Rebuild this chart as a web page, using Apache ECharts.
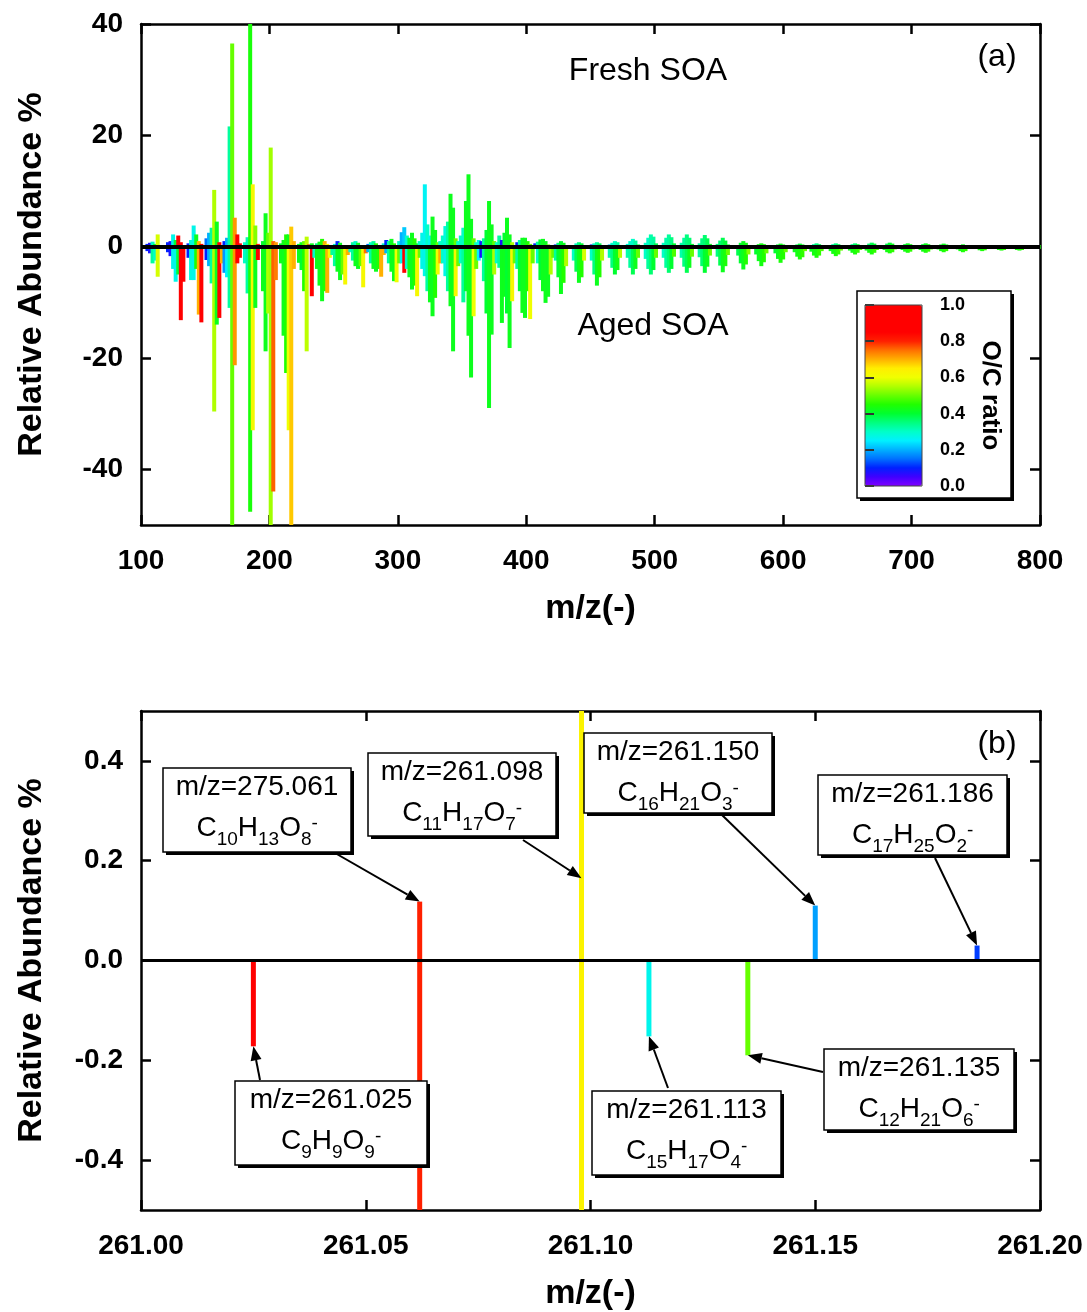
<!DOCTYPE html>
<html>
<head>
<meta charset="utf-8">
<script src="https://cdn.jsdelivr.net/npm/echarts@6/dist/echarts.min.js"></script>
<style>
html, body { margin: 0; padding: 0; background: #fff; }
#chart { width: 1087px; height: 1312px; }
</style>
</head>
<body>
<div id="chart"></div>
<script>
// ---------- data ----------
// Each peak: [m/z, relative abundance %, O/C ratio]
const freshLow = [
  [105,0.5,0.1],[107,0.7,0.08],[109,0.9,0.3],[111,0.5,0.4],[113,2.2,0.58],
  [121,0.8,0.1],[123,1.0,0.08],[125,2.2,0.27],[127,1.2,0.4],[129,2.0,0.88],[131,0.8,0.85],
  [137,0.6,0.1],[139,1.2,0.28],[141,3.8,0.27],[143,2.2,0.42],[145,1.0,0.7],[147,0.5,0.85],
  [151,1.5,0.15],[153,2.5,0.2],[155,3.4,0.33],[157,10.2,0.55],[159,4.5,0.42],[161,0.8,0.85],
  [165,1.0,0.1],[167,1.6,0.2],[169,21.6,0.33],[171,36.5,0.5],[173,5.2,0.72],[175,2.2,0.85],[177,0.6,0.85],
  [181,0.8,0.3],[183,1.7,0.32],[185,45,0.44],[187,11.2,0.62],[189,3.8,0.52],[191,0.5,0.8],
  [195,1.0,0.4],[197,6.0,0.42],[199,2.5,0.5],[201,17.8,0.54],[203,1.0,0.76],[205,0.8,0.72],
  [209,0.6,0.4],[211,1.2,0.42],[213,2.2,0.45],[215,2.2,0.42],[217,3.6,0.68],[219,1.0,0.7],
  [223,0.5,0.4],[225,0.8,0.42],[227,1.0,0.5],[229,1.8,0.56],[231,0.4,0.85]
];
const freshMid = [
  [233,0.6,0.42],[237,0.6,0.35],[239,0.9,0.42],[241,1.4,0.45],[243,1.0,0.7],[245,0.5,0.62],
  [251,0.5,0.3],[253,1.0,0.1],[255,0.7,0.42],[257,0.3,0.6],
  [265,0.8,0.33],[267,1.0,0.3],[269,0.7,0.42],[271,0.3,0.6],
  [277,0.5,0.15],[279,0.8,0.3],[281,1.0,0.33],[283,0.6,0.45],
  [289,0.6,0.3],[291,1.2,0.1],[293,1.0,0.33],[295,1.4,0.42],[297,0.6,0.45],
  [301,1.0,0.3],[303,2.6,0.2],[305,3.5,0.22],[307,2.0,0.3],[309,1.6,0.4],[311,2.5,0.42],[313,1.5,0.45],[315,0.6,0.42],
  [317,1.0,0.3],[319,2.5,0.27],[321,11.2,0.26],[323,4.0,0.3],[325,2.0,0.27],[327,5.4,0.42],[329,3.0,0.42],[331,0.8,0.5],
  [333,1.0,0.3],[335,2.0,0.3],[337,3.7,0.28],[339,4.5,0.33],[341,9.5,0.42],[343,7.0,0.42],[345,1.5,0.5],
  [347,1.0,0.3],[349,2.0,0.3],[351,3.4,0.3],[353,8.2,0.42],[355,13.0,0.42],[357,5.0,0.42],[359,1.5,0.5],
  [361,0.8,0.3],[363,1.2,0.27],[365,1.0,0.08],[367,1.5,0.33],[369,3.0,0.4],[371,8.2,0.42],[373,4.0,0.42],[375,1.0,0.5],
  [377,0.8,0.3],[379,2.0,0.33],[381,1.2,0.08],[383,2.5,0.4],[385,5.2,0.42],[387,2.2,0.42],[389,0.8,0.55],
  [393,0.8,0.1],[395,1.2,0.33],[397,1.6,0.42],[399,1.6,0.42],[401,1.0,0.45],[403,0.5,0.5],
  [407,0.6,0.1],[409,0.9,0.33],[411,1.3,0.4],[413,1.4,0.42],[415,1.0,0.42],[417,0.4,0.5]
];
const freshHigh = [
  [423,0.4,0.1],[425,0.7,0.35],[427,1.0,0.4],[429,0.7,0.42],[431,0.3,0.45],
  [437,0.3,0.08],[439,0.6,0.3],[441,0.8,0.35],[443,0.6,0.4],[445,0.3,0.42],
  [451,0.4,0.1],[453,0.6,0.3],[455,0.8,0.33],[457,0.6,0.38],[459,0.3,0.42],
  [465,0.4,0.2],[467,0.7,0.3],[469,1.0,0.3],[471,0.8,0.33],[473,0.3,0.4],
  [479,0.5,0.28],[481,1.0,0.3],[483,1.4,0.3],[485,1.1,0.33],[487,0.4,0.4],
  [493,0.7,0.3],[495,1.6,0.3],[497,2.2,0.32],[499,1.8,0.33],[501,0.6,0.38],
  [507,0.7,0.3],[509,1.6,0.32],[511,2.2,0.33],[513,1.7,0.35],[515,0.6,0.4],
  [521,0.7,0.32],[523,1.6,0.33],[525,2.2,0.35],[527,1.6,0.36],[529,0.5,0.4],
  [535,0.6,0.33],[537,1.5,0.35],[539,2.1,0.36],[541,1.5,0.38],[543,0.5,0.42],
  [549,0.5,0.35],[551,1.1,0.36],[553,1.6,0.38],[555,1.1,0.4],[557,0.4,0.42],
  [565,0.3,0.38],[567,0.7,0.4],[569,1.0,0.42],[571,0.7,0.43],[573,0.3,0.45],
  [579,0.2,0.4],[581,0.45,0.42],[583,0.6,0.43],[585,0.45,0.44],[587,0.2,0.45],
  [594,0.2,0.38],[596,0.4,0.4],[598,0.55,0.42],[600,0.4,0.43],[602,0.2,0.45],
  [609,0.2,0.35],[611,0.4,0.38],[613,0.55,0.4],[615,0.4,0.42],[617,0.2,0.44],
  [622,0.2,0.3],[624,0.45,0.32],[626,0.6,0.35],[628,0.45,0.38],[630,0.2,0.42],
  [637,0.2,0.3],[639,0.45,0.32],[641,0.6,0.35],[643,0.45,0.38],[645,0.2,0.42],
  [652,0.2,0.32],[654,0.45,0.34],[656,0.6,0.36],[658,0.45,0.4],[660,0.2,0.42],
  [665,0.3,0.34],[667,0.55,0.36],[669,0.72,0.38],[671,0.55,0.4],[673,0.25,0.42],
  [679,0.3,0.36],[681,0.55,0.38],[683,0.72,0.4],[685,0.55,0.42],[687,0.25,0.44],
  [693,0.25,0.38],[695,0.45,0.4],[697,0.6,0.42],[699,0.45,0.43],[701,0.2,0.44],
  [707,0.25,0.38],[709,0.45,0.4],[711,0.6,0.42],[713,0.45,0.43],[715,0.2,0.44],
  [721,0.2,0.4],[723,0.4,0.41],[725,0.55,0.42],[727,0.4,0.43],[729,0.2,0.44],
  [736,0.15,0.4],[738,0.3,0.41],[740,0.42,0.42],[742,0.3,0.43],[744,0.15,0.44],
  [751,0.1,0.4],[753,0.2,0.41],[755,0.3,0.42],[757,0.2,0.43],[759,0.1,0.44],
  [766,0.1,0.4],[768,0.18,0.41],[770,0.25,0.42],[772,0.18,0.43],[774,0.1,0.44],
  [780,0.08,0.4],[782,0.1,0.41],[784,0.12,0.42],[786,0.1,0.43],
  [797,0.15,0.42],[799,0.3,0.44]
];

const agedLow = [
  [105,-0.8,0.1],[107,-1.2,0.08],[109,-3.0,0.33],[111,-2.5,0.3],[113,-5.4,0.58],
  [121,-1.0,0.1],[123,-1.7,0.08],[125,-4.0,0.27],[127,-6.3,0.27],[129,-5.0,0.4],[131,-13.2,0.88],[133,-6.3,0.85],
  [137,-2.0,0.1],[139,-6.0,0.28],[141,-6.0,0.27],[143,-4.0,0.45],[145,-12.2,0.7],[147,-13.6,0.85],
  [151,-2.4,0.1],[153,-3.5,0.2],[155,-6.6,0.33],[157,-29.6,0.55],[159,-14.0,0.42],[161,-12.8,0.85],[163,-3.0,0.7],
  [165,-4.7,0.18],[167,-5.5,0.25],[169,-11.0,0.33],[171,-52,0.5],[173,-21.3,0.72],[175,-3.0,0.85],[177,-2.0,0.85],
  [181,-3.0,0.3],[183,-8.4,0.33],[185,-47.6,0.44],[187,-33.0,0.62],[189,-11.0,0.42],[191,-2.4,0.85],
  [195,-8.0,0.42],[197,-18.8,0.42],[199,-12.0,0.55],[201,-52,0.54],[203,-44.0,0.76],[205,-6.0,0.74],
  [209,-3.0,0.42],[211,-16.0,0.42],[213,-22.7,0.45],[215,-33.0,0.6],[217,-52,0.68],[219,-4.0,0.7],
  [223,-2.9,0.42],[225,-4.2,0.4],[227,-8.0,0.45],[229,-18.8,0.56],[233,-8.9,0.85]
];
const agedMid = [
  [235,-2.0,0.3],[237,-4.0,0.42],[239,-7.0,0.42],[241,-9.8,0.42],[243,-8.0,0.45],[245,-8.3,0.7],[247,-2.0,0.6],
  [249,-1.5,0.33],[251,-3.5,0.33],[253,-4.5,0.42],[255,-6.0,0.42],[257,-5.0,0.5],[259,-6.8,0.62],[261,-1.5,0.7],
  [263,-1.0,0.3],[265,-2.5,0.33],[267,-3.5,0.42],[269,-4.0,0.42],[271,-3.5,0.5],[273,-7.3,0.62],[275,-1.2,0.75],
  [277,-1.0,0.2],[279,-3.0,0.33],[281,-4.0,0.42],[283,-4.5,0.42],[285,-4.0,0.45],[287,-5.4,0.7],[289,-1.5,0.7],
  [291,-1.2,0.2],[293,-3.0,0.33],[295,-4.5,0.42],[297,-6.2,0.42],[299,-6.4,0.6],[301,-3.0,0.5],
  [303,-3.0,0.27],[305,-4.7,0.85],[307,-4.0,0.3],[309,-5.5,0.42],[311,-7.7,0.42],[313,-7.0,0.45],[315,-8.9,0.62],[317,-2.0,0.5],
  [319,-4.0,0.27],[321,-5.3,0.27],[323,-8.0,0.33],[325,-10.0,0.42],[327,-12.5,0.42],[329,-9.2,0.45],[331,-5.0,0.6],[333,-3.0,0.7],
  [335,-3.0,0.3],[337,-5.3,0.27],[339,-8.0,0.33],[341,-10.7,0.42],[343,-18.8,0.42],[345,-8.9,0.62],[347,-3.5,0.5],
  [349,-3.0,0.3],[351,-10.0,0.33],[353,-8.0,0.4],[355,-16.0,0.42],[357,-23.5,0.42],[359,-12.5,0.6],[361,-4.0,0.5],
  [363,-2.5,0.25],[365,-2.0,0.08],[367,-6.2,0.33],[369,-12.0,0.4],[371,-29.0,0.42],[373,-15.8,0.42],[375,-5.0,0.55],
  [377,-3.0,0.3],[379,-3.8,0.33],[381,-13.7,0.42],[383,-9.0,0.42],[385,-12.0,0.4],[387,-18.2,0.42],[389,-9.8,0.62],[391,-3.0,0.5],
  [393,-4.0,0.33],[395,-8.0,0.4],[397,-11.9,0.42],[399,-12.8,0.42],[401,-8.0,0.45],[403,-13.0,0.6],[405,-3.0,0.5],
  [409,-3.0,0.3],[411,-6.0,0.4],[413,-8.0,0.42],[415,-10.1,0.42],[417,-9.0,0.42],[419,-5.0,0.55],[421,-2.0,0.5]
];
const agedHigh = [
  [423,-2.5,0.33],[425,-5.5,0.4],[427,-8.5,0.42],[429,-6.5,0.45],[431,-3.5,0.55],
  [437,-2.5,0.3],[439,-4.5,0.38],[441,-6.5,0.42],[443,-5.5,0.45],[445,-2.5,0.58],
  [451,-2.5,0.3],[453,-5.0,0.35],[455,-7.0,0.42],[457,-5.5,0.45],[459,-2.5,0.55],
  [465,-2.0,0.32],[467,-3.8,0.35],[469,-5.0,0.4],[471,-4.2,0.43],[473,-2.0,0.55],
  [479,-2.0,0.32],[481,-3.8,0.33],[483,-5.0,0.38],[485,-4.0,0.42],[487,-2.0,0.5],
  [493,-2.2,0.3],[495,-4.0,0.33],[497,-5.0,0.36],[499,-4.2,0.4],[501,-2.0,0.5],
  [507,-2.0,0.3],[509,-3.8,0.33],[511,-4.7,0.36],[513,-4.0,0.4],[515,-1.8,0.48],
  [521,-2.0,0.32],[523,-3.6,0.35],[525,-4.7,0.38],[527,-3.8,0.42],[529,-1.8,0.5],
  [535,-1.9,0.33],[537,-3.5,0.36],[539,-4.7,0.4],[541,-3.6,0.42],[543,-1.6,0.5],
  [549,-1.8,0.35],[551,-3.4,0.38],[553,-4.6,0.42],[555,-3.5,0.44],[557,-1.5,0.5],
  [565,-1.6,0.38],[567,-3.0,0.4],[569,-4.1,0.42],[571,-3.2,0.45],[573,-1.4,0.52],
  [579,-1.4,0.4],[581,-2.6,0.42],[583,-3.5,0.43],[585,-2.8,0.45],[587,-1.2,0.5],
  [594,-1.2,0.4],[596,-2.2,0.42],[598,-2.9,0.44],[600,-2.3,0.45],[602,-1.0,0.5],
  [609,-1.0,0.42],[611,-1.8,0.43],[613,-2.3,0.44],[615,-1.9,0.46],[617,-0.8,0.5],
  [622,-0.9,0.42],[624,-1.6,0.43],[626,-2.0,0.44],[628,-1.6,0.46],[630,-0.8,0.48],
  [637,-0.8,0.42],[639,-1.3,0.43],[641,-1.7,0.44],[643,-1.4,0.46],[645,-0.7,0.5],
  [652,-0.7,0.42],[654,-1.1,0.43],[656,-1.4,0.44],[658,-1.1,0.46],[660,-0.6,0.48],
  [665,-0.7,0.42],[667,-1.1,0.43],[669,-1.4,0.44],[671,-1.1,0.46],[673,-0.6,0.48],
  [679,-0.6,0.42],[681,-1.0,0.43],[683,-1.2,0.44],[685,-1.0,0.46],[687,-0.5,0.48],
  [693,-0.6,0.42],[695,-0.9,0.43],[697,-1.1,0.44],[699,-0.9,0.46],[701,-0.5,0.48],
  [707,-0.6,0.42],[709,-0.9,0.43],[711,-1.1,0.44],[713,-0.9,0.46],[715,-0.5,0.48],
  [721,-0.5,0.42],[723,-0.8,0.43],[725,-1.0,0.44],[727,-0.8,0.46],[729,-0.4,0.48],
  [736,-0.5,0.42],[738,-0.8,0.43],[740,-1.0,0.44],[742,-0.8,0.46],[744,-0.4,0.48],
  [751,-0.4,0.42],[753,-0.65,0.43],[755,-0.8,0.44],[757,-0.65,0.46],[759,-0.3,0.48],
  [766,-0.4,0.42],[768,-0.6,0.43],[770,-0.7,0.44],[772,-0.6,0.46],[774,-0.3,0.48],
  [780,-0.4,0.42],[782,-0.6,0.43],[784,-0.7,0.44],[786,-0.6,0.46],[788,-0.3,0.48],
  [797,-0.2,0.42],[799,-0.4,0.44]
];

// Zoom on nominal mass 261: [exact m/z, relative abundance %, O/C ratio]
const detailFresh = [
  [261.062, 0.118, 0.800],
  [261.098, 0.950, 0.636],
  [261.150, 0.110, 0.1875],
  [261.186, 0.030, 0.118]
];
const detailAged = [
  [261.025, -0.172, 1.000],
  [261.062, -0.950, 0.800],
  [261.098, -0.950, 0.636],
  [261.113, -0.152, 0.267],
  [261.135, -0.190, 0.500]
];

// Peak labels: printed m/z, formula as [element, count] pairs, annotated peak
const detailLabels = [
  { mz: '275.061', formula: [['C','10'],['H','13'],['O','8']], peak: [261.062, 0.118] },
  { mz: '261.098', formula: [['C','11'],['H','17'],['O','7']], peak: [261.098, 0.165] },
  { mz: '261.150', formula: [['C','16'],['H','21'],['O','3']], peak: [261.150, 0.110] },
  { mz: '261.186', formula: [['C','17'],['H','25'],['O','2']], peak: [261.186, 0.030] },
  { mz: '261.025', formula: [['C','9'],['H','9'],['O','9']],   peak: [261.025, -0.172] },
  { mz: '261.113', formula: [['C','15'],['H','17'],['O','4']], peak: [261.113, -0.152] },
  { mz: '261.135', formula: [['C','12'],['H','21'],['O','6']], peak: [261.135, -0.190] }
];

// Axis ticks
const massTicks = [100, 200, 300, 400, 500, 600, 700, 800];
const abundanceTicks = [-40, -20, 0, 20, 40];
const detailMassTicks = [261.00, 261.05, 261.10, 261.15, 261.20];
const detailAbundanceTicks = [-0.4, -0.2, 0.0, 0.2, 0.4];
const ocTicks = [0.0, 0.2, 0.4, 0.6, 0.8, 1.0];

// ---------- layout & style ----------
const FONT = '"Liberation Sans", Arial, Helvetica, sans-serif';
// rainbow colour scale for O/C, evenly spaced stops from 0.0 to 1.0
const ocColors = ['#7f00ff','#4000ff','#0020ff','#0070ff','#00b0ff','#00f0ff','#00ffc8',
                  '#00ff80','#00ff30','#20ff00','#66ff00','#b0ff00','#f0ff00','#ffee00',
                  '#ffb000','#ff7000','#ff2000','#ff0000','#ff0000','#ff0000','#ff0000'];

const labelBoxes = [
  { box: [163, 768, 188, 84],  from: [335, 853] },
  { box: [368, 753, 188, 83],  from: [523, 840] },
  { box: [584, 733, 188, 80],  from: [722, 815] },
  { box: [818, 775, 189, 80],  from: [935, 858] },
  { box: [235, 1081, 192, 84], from: [260, 1080] },
  { box: [592, 1091, 189, 84], from: [668, 1088] },
  { box: [824, 1049, 190, 81], from: [823, 1072] }
];

const tickFont = { fontFamily: FONT, fontSize: 28, fontWeight: 'bold', color: '#000' };
const titleFont = { fontFamily: FONT, fontSize: 34, fontWeight: 'bold', color: '#000' };
const frameLine = { show: true, onZero: false, lineStyle: { color: '#000', width: 2.5 } };
const innerTick = (values) => ({ show: true, inside: true, length: 10, customValues: values,
  lineStyle: { color: '#000', width: 2.5 } });

function xAxisPair(grid, min, max, ticks, fmt) {
  return [
    { type: 'value', gridIndex: grid, position: 'bottom', min: min, max: max,
      axisLine: frameLine, axisTick: innerTick(ticks), splitLine: { show: false },
      axisLabel: Object.assign({ customValues: ticks, margin: 22, formatter: fmt }, tickFont),
      name: 'm/z(-)', nameLocation: 'middle', nameGap: 67, nameTextStyle: titleFont },
    { type: 'value', gridIndex: grid, position: 'top', min: min, max: max,
      axisLine: frameLine, axisTick: innerTick(ticks), splitLine: { show: false },
      axisLabel: { show: false } }
  ];
}
function yAxisPair(grid, min, max, ticks, fmt) {
  return [
    { type: 'value', gridIndex: grid, position: 'left', min: min, max: max,
      axisLine: frameLine, axisTick: innerTick(ticks), splitLine: { show: false },
      axisLabel: Object.assign({ customValues: ticks, margin: 18, formatter: fmt }, tickFont),
      name: 'Relative Abundance %', nameLocation: 'middle', nameGap: 92, nameTextStyle: titleFont },
    { type: 'value', gridIndex: grid, position: 'right', min: min, max: max,
      axisLine: frameLine, axisTick: innerTick(ticks), splitLine: { show: false },
      axisLabel: { show: false } }
  ];
}

const zeroLine = (w) => ({
  silent: true, symbol: 'none', label: { show: false },
  lineStyle: { color: '#000', width: w, type: 'solid' },
  emphasis: { disabled: true },
  data: [{ yAxis: 0 }]
});

const option = {
  animation: false,
  backgroundColor: '#fff',
  textStyle: { fontFamily: FONT },
  grid: [
    { left: 141, right: 47, top: 24, height: 501 },
    { left: 141, right: 47, top: 711, height: 501 },
    { left: 865, top: 305, width: 57, height: 181 }
  ],
  xAxis: [
    ...xAxisPair(0, 100, 800, massTicks, (v) => String(v)),
    ...xAxisPair(1, 261.0, 261.2, detailMassTicks, (v) => v.toFixed(2)),
    { type: 'value', gridIndex: 2, min: 0, max: 1, show: false }
  ],
  yAxis: [
    ...yAxisPair(0, -50, 40, abundanceTicks, (v) => String(v)),
    ...yAxisPair(1, -0.5, 0.5, detailAbundanceTicks, (v) => v.toFixed(1)),
    { type: 'value', gridIndex: 2, position: 'right', min: 0, max: 1, z: 10,
      axisLine: { show: false }, splitLine: { show: false },
      axisTick: { show: true, inside: false, length: 9, customValues: ocTicks,
                  lineStyle: { color: '#333', width: 2 } },
      axisLabel: { customValues: ocTicks, margin: 18, formatter: (v) => v.toFixed(1),
                   fontFamily: FONT, fontSize: 18, fontWeight: 'bold', color: '#000' },
      name: 'O/C ratio', nameLocation: 'middle', nameRotate: -90, nameGap: 55,
      nameTextStyle: { fontFamily: FONT, fontSize: 26, fontWeight: 'bold', color: '#000' } }
  ],
  visualMap: {
    type: 'continuous', min: 0, max: 1, dimension: 2,
    seriesIndex: [0, 1, 2, 3],
    inRange: { color: ocColors },
    calculable: false, hoverLink: false,
    left: 865, top: 305, itemWidth: 57, itemHeight: 181,
    padding: 0, text: null, z: 6
  },
  series: [
    { name: 'Fresh SOA', type: 'bar', xAxisIndex: 0, yAxisIndex: 0,
      data: freshLow.concat(freshMid, freshHigh),
      barWidth: 4, barGap: '-100%', z: 2 },
    { name: 'Aged SOA', type: 'bar', xAxisIndex: 0, yAxisIndex: 0,
      data: agedLow.concat(agedMid, agedHigh),
      barWidth: 4, barGap: '-100%', z: 2, markLine: zeroLine(4) },
    { name: 'Fresh SOA m/z 261', type: 'bar', xAxisIndex: 2, yAxisIndex: 2,
      data: detailFresh, barWidth: 5, barGap: '-100%', z: 2 },
    { name: 'Aged SOA m/z 261', type: 'bar', xAxisIndex: 2, yAxisIndex: 2,
      data: detailAged, barWidth: 5, barGap: '-100%', z: 2, markLine: zeroLine(3) }
  ]
};

const chart = echarts.init(document.getElementById('chart'), null, { renderer: 'canvas' });
chart.setOption(option);

// ---------- text, colour-bar frame and peak labels ----------
const plainText = (text, x, y, size) => ({
  type: 'text', z: 20, silent: true,
  style: { text: text, x: x, y: y, align: 'center', verticalAlign: 'middle',
           fontFamily: FONT, fontSize: size, fill: '#000' }
});
const shadowBox = (x, y, w, h, z) => ([
  { type: 'rect', z: z, silent: true, shape: { x: x + 3, y: y + 3, width: w, height: h },
    style: { fill: '#000' } },
  { type: 'rect', z: z + 1, silent: true, shape: { x: x, y: y, width: w, height: h },
    style: { fill: '#fff', stroke: '#000', lineWidth: 1.5 } }
]);

const graphics = [
  plainText('Fresh SOA', 648, 71, 32),
  plainText('Aged SOA', 653, 326, 32),
  plainText('(a)', 997, 57, 32),
  plainText('(b)', 997, 744, 32),
  ...shadowBox(857, 291, 154, 207, 3),
  { type: 'rect', z: 30, silent: true, shape: { x: 865, y: 305, width: 57, height: 181 },
    style: { fill: 'none', stroke: '#444', lineWidth: 1 } }
];

// formula line: element symbols top-aligned, counts dropped to the line bottom, charge raised
const richStyles = {
  n: { fontFamily: FONT, fontSize: 28, lineHeight: 28, verticalAlign: 'top', fill: '#000' },
  s: { fontFamily: FONT, fontSize: 19, lineHeight: 19, verticalAlign: 'bottom', fill: '#000' },
  p: { fontFamily: FONT, fontSize: 19, lineHeight: 10, verticalAlign: 'top', fill: '#000' },
  g: { fontSize: 1, lineHeight: 35, verticalAlign: 'top' }
};

detailLabels.forEach((lab, i) => {
  const b = labelBoxes[i].box;
  const from = labelBoxes[i].from;
  const tip = chart.convertToPixel({ gridIndex: 1 }, lab.peak);
  graphics.push(...shadowBox(b[0], b[1], b[2], b[3], 40));
  graphics.push({
    type: 'text', z: 45, silent: true,
    style: { text: 'm/z=' + lab.mz, x: b[0] + b[2] / 2, y: b[1] + 19, align: 'center',
             verticalAlign: 'middle', fontFamily: FONT, fontSize: 28, fill: '#000' }
  });
  const formula = '{g| }' + lab.formula.map((p) => '{n|' + p[0] + '}{s|' + p[1] + '}').join('') + '{p|-}';
  graphics.push({
    type: 'text', z: 45, silent: true,
    style: { text: formula, rich: richStyles, x: b[0] + b[2] / 2, y: b[1] + 64,
             align: 'center', verticalAlign: 'middle', fill: '#000' }
  });
  // arrow from label box to the peak
  const dx = tip[0] - from[0], dy = tip[1] - from[1];
  const len = Math.sqrt(dx * dx + dy * dy);
  const ux = dx / len, uy = dy / len;
  const headL = 14, headW = 5.5;
  const bx = tip[0] - ux * headL, by = tip[1] - uy * headL;
  graphics.push({
    type: 'line', z: 45, silent: true,
    shape: { x1: from[0], y1: from[1], x2: bx, y2: by },
    style: { stroke: '#000', lineWidth: 2 }
  });
  graphics.push({
    type: 'polygon', z: 45, silent: true,
    shape: { points: [[tip[0], tip[1]], [bx - uy * headW, by + ux * headW], [bx + uy * headW, by - ux * headW]] },
    style: { fill: '#000' }
  });
});

chart.setOption({ graphic: graphics });
</script>
</body>
</html>
